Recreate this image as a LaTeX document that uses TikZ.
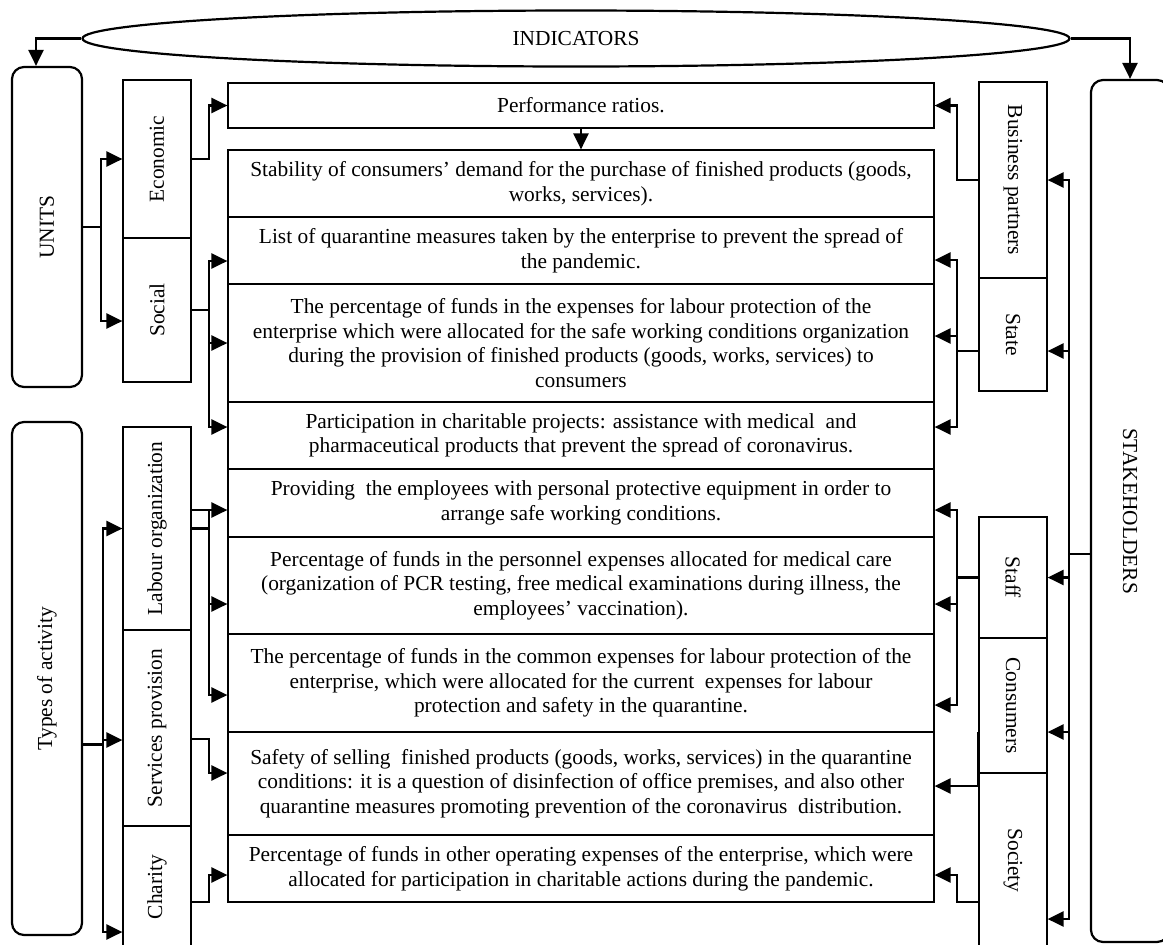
\documentclass[tikz,border=0pt]{standalone}
\usepackage{fontspec}
\setmainfont{Liberation Serif}
\usepackage{graphicx}
\usetikzlibrary{arrows.meta,shapes.geometric}
\tikzset{
  txt/.style={font=\fontsize{10.7}{12.3}\selectfont},
  mbox/.style={txt, draw, line width=0.6pt, inner sep=0pt, align=center, minimum width=353pt},
  cat/.style={txt, draw, line width=0.6pt, inner sep=0pt, minimum width=34pt},
  rbox/.style={txt, draw, line width=1.1pt, rounded corners=6pt, inner sep=0pt},
  conn/.style={line width=1.2pt},
  arr/.style={conn, -{Triangle[length=8pt,width=7.5pt]}},
  arrb/.style={conn, {Triangle[length=8pt,width=7.5pt]}-{Triangle[length=8pt,width=7.5pt]}},
}
\begin{document}
\begin{tikzpicture}[x=0.5pt, y=-0.5pt]
\useasboundingbox (0,0) rectangle (1163,944);
\clip (0,0) rectangle (1163,944);

% ellipse
\node[txt, draw, ellipse, line width=1.1pt, minimum width=493.5pt, minimum height=28pt, inner sep=0pt] (ind) at (576,38.5) {INDICATORS};

% rounded boxes
\node[rbox, minimum width=35pt, minimum height=160pt] (units) at (47,227) {\rotatebox{90}{UNITS}};
\node[rbox, minimum width=35pt, minimum height=256.5pt] (types) at (47,678.5) {\rotatebox{90}{Types of activity}};
\node[rbox, minimum width=39pt, minimum height=431pt] (stake) at (1130,511) {\rotatebox{-90}{STAKEHOLDERS}};

% left category boxes
\node[cat, minimum height=79pt] (econ) at (157,159) {\rotatebox{90}{Economic}};
\node[cat, minimum height=72pt] (soc) at (157,310) {\rotatebox{90}{Social}};
\node[cat, minimum height=101.5pt] (lab) at (157,528.5) {\rotatebox{90}{Labour organization}};
\node[cat, minimum height=98pt] (serv) at (157,728) {\rotatebox{90}{Services provision}};
\node[cat, minimum height=61pt] (char) at (157,887) {\rotatebox{90}{Charity}};

% right category boxes
\node[cat, minimum height=98pt] (bp) at (1013,180) {\rotatebox{-90}{Business partners}};
\node[cat, minimum height=56.5pt] (state) at (1013,334.5) {\rotatebox{-90}{State}};
\node[cat, minimum height=60.5pt] (staff) at (1013,577.5) {\rotatebox{-90}{Staff}};
\node[cat, minimum height=67.5pt] (cons) at (1013,705.5) {\rotatebox{-90}{Consumers}};
\node[cat, minimum height=87.5pt] (soci) at (1013,860.5) {\rotatebox{-90}{Society}};

% middle boxes
\node[mbox, minimum height=22.5pt] (perf) at (581,105.5) {Performance ratios.};
\node[mbox, minimum height=33.5pt] (stab) at (581,183.5) {Stability of consumers’ demand for the purchase of finished products (goods,\\ works, services).};
\node[mbox, minimum height=33.5pt] (list) at (581,250.5) {List of quarantine measures taken by the enterprise to prevent the spread of\\ the pandemic.};
\node[mbox, minimum height=59pt] (pct) at (581,343) {The percentage of funds in the expenses for labour protection of the\\ enterprise which were allocated for the safe working conditions organization\\ during the provision of finished products (goods, works, services) to\\ consumers};
\node[mbox, minimum height=33.5pt] (part) at (581,435.5) {Participation in charitable projects: assistance with medical\ \ and\\ pharmaceutical products that prevent the spread of coronavirus.};
\node[mbox, minimum height=34pt] (prov) at (581,503) {Providing\ \ the employees with personal protective equipment in order to\\ arrange safe working conditions.};
\node[mbox, minimum height=48.5pt] (pers) at (581,585.5) {Percentage of funds in the personnel expenses allocated for medical care\\ (organization of PCR testing, free medical examinations during illness, the\\ employees’ vaccination).};
\node[mbox, minimum height=49pt] (comm) at (581,683) {The percentage of funds in the common expenses for labour protection of the\\ enterprise, which were allocated for the current\ \ expenses for labour\\ protection and safety in the quarantine.};
\node[mbox, minimum height=51.5pt] (safe) at (581,783.5) {Safety of selling\ \ finished products (goods, works, services) in the quarantine\\ conditions: it is a question of disinfection of office premises, and also other\\ quarantine measures promoting prevention of the coronavirus\ \ distribution.};
\node[mbox, minimum height=33.5pt] (oth) at (581,868.5) {Percentage of funds in other operating expenses of the enterprise, which were\\ allocated for participation in charitable actions during the pandemic.};

% bus x positions
\coordinate (xU) at (36,0);
\coordinate (bL1) at (101,0);
\coordinate (bL2) at (103,0);
\coordinate (bM) at (209,0);
\coordinate (bN) at (957,0);
\coordinate (bR) at (1069,0);

% ellipse arrows
\draw[arr] (ind.west) -| (units.north -| xU);
\draw[arr] (ind.east) -| (stake.north);

% UNITS
\draw[conn] (units.east) -- (units.east -| bL1);
\coordinate (uS) at ([yshift=-5.5pt]soc.west);
\draw[arrb] (econ.west) -- (econ.west -| bL1) -- (uS -| bL1) -- (uS);

% Economic
\draw[arr] (econ.east) -- (econ.east -| bM) |- (perf.west);
\draw[arr] (perf.south) -- (stab.north);

% Social
\draw[conn] (soc.east) -- (soc.east -| bM);
\coordinate (sL) at ([yshift=-5.25pt]list.west);
\coordinate (sP) at ([yshift=4.25pt]part.west);
\draw[arrb] (sL) -- (sL -| bM) -- (sP -| bM) -- (sP);
\draw[arr] (pct.west -| bM) -- (pct.west);

% Types of activity
\coordinate (tT) at ([yshift=-33pt]types.east);
\draw[conn] (tT) -- (tT -| bL2);
\coordinate (tS) at ([yshift=-6pt]serv.west);
\coordinate (tC) at ([yshift=-22.5pt]char.west);
\draw[arrb] (lab.west) -- (lab.west -| bL2) -- (tC -| bL2) -- (tC);
\draw[arr] (tS -| bL2) -- (tS);

% Labour organization
\coordinate (p1) at ([yshift=-3.5pt]prov.west);
\coordinate (p2) at ([yshift=-9.25pt]pers.west);
\coordinate (p3) at ([yshift=-6pt]comm.west);
\draw[arr] (lab.east |- p1) -- (p1);
\draw[conn] (lab.east) -- (lab.east -| bM);
\draw[arr] (p1 -| bM) -- (p3 -| bM) -- (p3);
\draw[arr] (p2 -| bM) -- (p2);

% Services provision
\coordinate (s1) at ([yshift=-5.5pt]serv.east);
\coordinate (s2) at ([yshift=5.25pt]safe.west);
\draw[arr] (s1) -| (s2 -| bM) -- (s2);

% Charity
\coordinate (c1) at ([yshift=-7.5pt]char.east);
\coordinate (c2) at ([yshift=-3.25pt]oth.west);
\draw[arr] (c1) -| (c2 -| bM) -- (c2);

% STAKEHOLDERS
\coordinate (kS) at ([yshift=-21.5pt]stake.west);
\draw[conn] (kS) -- (kS -| bR);
\coordinate (kSt) at ([yshift=-8.25pt]state.east);
\coordinate (kC) at ([yshift=-13.25pt]cons.east);
\coordinate (kSo) at ([yshift=-29.25pt]soci.east);
\draw[arrb] (bp.east) -- (bp.east -| bR) -- (kSo -| bR) -- (kSo);
\draw[arr] (kSt -| bR) -- (kSt);
\draw[arr] (staff.east -| bR) -- (staff.east);
\draw[arr] (kC -| bR) -- (kC);

% Business partners
\draw[arr] (bp.west) -- (bp.west -| bN) |- (perf.east);

% State
\coordinate (r1) at ([yshift=-4.75pt]list.east);
\coordinate (r2) at ([yshift=3.5pt]pct.east);
\coordinate (r3) at ([yshift=4.25pt]part.east);
\coordinate (stW) at ([yshift=-8.25pt]state.west);
\draw[conn] (stW) -- (stW -| bN);
\draw[arrb] (r1) -- (r1 -| bN) -- (r3 -| bN) -- (r3);
\draw[arr] (r2 -| bN) -- (r2);

% Staff
\coordinate (f1) at ([yshift=-3.5pt]prov.east);
\coordinate (f2) at ([yshift=-9.25pt]pers.east);
\coordinate (f3) at ([yshift=-11pt]comm.east);
\draw[conn] (staff.west) -- (staff.west -| bN);
\draw[arrb] (f1) -- (f1 -| bN) -- (f3 -| bN) -- (f3);
\draw[arr] (f2 -| bN) -- (f2);

% Consumers
\coordinate (cW) at ([yshift=-13.25pt]cons.west);
\coordinate (g1) at ([yshift=-1.25pt]safe.east);
\draw[arr] (cW) -- (cW |- g1) -- (g1);

% Society
\coordinate (soW) at ([yshift=-20.75pt]soci.west);
\coordinate (g2) at ([yshift=-3.25pt]oth.east);
\draw[arr] (soW) -| (g2 -| bN) -- (g2);
\end{tikzpicture}
\end{document}
